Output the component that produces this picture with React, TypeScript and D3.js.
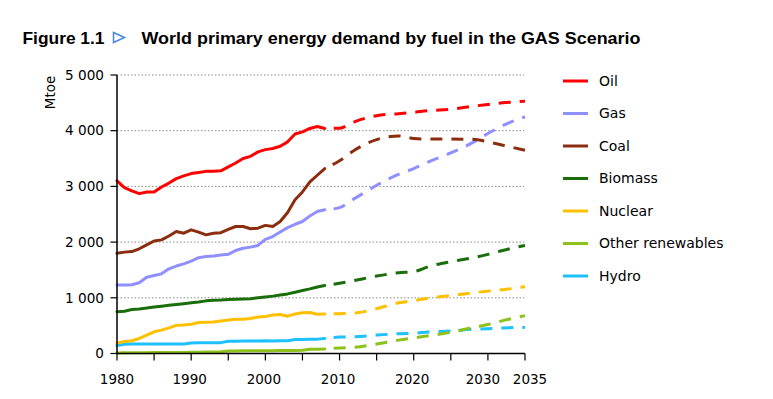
import React from "react";
import * as d3 from "d3";

const histYears = [1980,1981,1982,1983,1984,1985,1986,1987,1988,1989,1990,1991,1992,1993,1994,1995,1996,1997,1998,1999,2000,2001,2002,2003,2004,2005,2006,2007,2008];
const projYears = [2008,2010,2012,2015,2018,2020,2022,2025,2028,2030,2032,2035];

const oilHist = [3100,2980,2920,2870,2900,2900,2990,3060,3140,3190,3230,3250,3270,3270,3280,3350,3420,3500,3540,3620,3660,3680,3720,3800,3940,3980,4040,4075,4040];
const oilProj = [4040,4045,4160,4270,4305,4330,4360,4385,4440,4470,4500,4530];

const gasHist = [1230,1230,1235,1270,1370,1400,1430,1520,1570,1610,1660,1720,1740,1750,1770,1780,1850,1890,1910,1940,2050,2100,2180,2260,2320,2370,2470,2550,2580];
const gasProj = [2580,2620,2780,3020,3220,3320,3440,3600,3790,3950,4090,4250];

const coalHist = [1800,1820,1830,1880,1950,2020,2040,2110,2190,2160,2220,2180,2130,2160,2170,2230,2280,2280,2240,2250,2300,2280,2370,2530,2760,2900,3080,3200,3320];
const coalProj = [3320,3460,3650,3840,3905,3860,3850,3850,3845,3800,3740,3650];

const biomassHist = [750,760,790,800,815,835,850,865,880,895,910,925,945,955,960,970,975,980,985,1000,1015,1030,1050,1070,1100,1130,1160,1195,1220];
const biomassProj = [1220,1260,1310,1390,1450,1470,1560,1650,1720,1780,1850,1940];

const nuclearHist = [190,215,230,270,330,390,420,460,505,510,525,555,560,565,585,600,615,615,630,655,665,690,700,670,710,730,735,705,710];
const nuclearProj = [710,715,725,805,910,950,995,1040,1090,1120,1145,1200];

const otherHist = [10,12,13,14,15,16,17,18,19,20,22,24,26,28,32,45,47,48,48,49,50,51,52,53,54,58,75,78,80];
const otherProj = [80,100,112,170,240,280,320,380,470,520,590,680];

const hydroHist = [145,165,170,170,170,170,170,170,172,172,190,192,192,195,195,220,222,225,225,225,228,226,228,230,250,252,255,258,270];
const hydroProj = [270,295,300,330,355,365,385,405,435,445,458,470];

const seriesNames = ["Oil","Gas","Coal","Biomass","Nuclear","Other renewables","Hydro"];
const seriesColors = ["#ff0000","#8f8fff","#8b2d0e","#1a6e0a","#ffc000","#8dc21a","#1ec0ff"];
const histData = [oilHist,gasHist,coalHist,biomassHist,nuclearHist,otherHist,hydroHist];
const projData = [oilProj,gasProj,coalProj,biomassProj,nuclearProj,otherProj,hydroProj];

const yTicks = [0,1000,2000,3000,4000,5000];
const yTickLabels = ["0","1 000","2 000","3 000","4 000","5 000"];
const xMinorTicks = [1980,1985,1990,1995,2000,2005,2010,2015,2020,2025,2030,2035];
const xLabels = [1980,1990,2000,2010,2020,2030,2035];
const xLabelNudge = [0,-1.5,-1.5,-1.5,-1.5,-5,5];

const axisFont = "'DejaVu Sans', Verdana, sans-serif";

export default function App() {
  const x = d3.scaleLinear().domain([1980, 2035]).range([117, 525]);
  const y = d3.scaleLinear().domain([0, 5000]).range([353.5, 75]);
  const histLine = d3.line<[number, number]>().x(d => x(d[0])).y(d => y(d[1]));
  const projLine = d3.line<[number, number]>().x(d => x(d[0])).y(d => y(d[1])).curve(d3.curveMonotoneX);

  const order = [6,5,4,3,1,2,0];

  return (
    <svg width={773} height={399} style={{ position: "absolute", left: 0, top: 0, background: "#fff" }}>
      {/* Title */}
      <text x={22.5} y={44} fontFamily="'Liberation Sans', Arial, sans-serif" fontWeight="bold" fontSize={17} textLength={82} lengthAdjust="spacingAndGlyphs">Figure 1.1</text>
      <polygon points="113.5,32.5 124.5,37.5 113.5,42.5" fill="#fff" stroke="#4a86e8" strokeWidth={1.5} />
      <text x={141.5} y={44} fontFamily="'Liberation Sans', Arial, sans-serif" fontWeight="bold" fontSize={17} textLength={499} lengthAdjust="spacingAndGlyphs">World primary energy demand by fuel in the GAS Scenario</text>

      {/* Gridlines */}
      {yTicks.filter(t => t > 0).map(t => (
        <line key={"g" + t} x1={x(1980)} x2={524} y1={y(t)} y2={y(t)} stroke="#8a8a8a" strokeWidth={1} strokeDasharray="1.5,2" />
      ))}

      {/* Series */}
      {order.map(i => {
        const h = histYears.map((yr, k) => [yr, histData[i][k]] as [number, number]);
        const p = projYears.map((yr, k) => [yr, projData[i][k]] as [number, number]);
        return (
          <g key={seriesNames[i]}>
            <path d={histLine(h) || ""} fill="none" stroke={seriesColors[i]} strokeWidth={3} strokeLinejoin="round" strokeLinecap="round" />
            <path d={projLine(p) || ""} fill="none" stroke={seriesColors[i]} strokeWidth={3} strokeDasharray="12,9" strokeDashoffset={-9} />
          </g>
        );
      })}

      {/* Y axis */}
      <line x1={x(1980)} x2={x(1980)} y1={y(5000)} y2={y(0)} stroke="#000" strokeWidth={1.5} />
      {yTicks.map((t, k) => (
        <g key={"y" + t}>
          <line x1={x(1980) - 6.5} x2={x(1980)} y1={y(t)} y2={y(t)} stroke="#000" strokeWidth={1.2} />
          <text x={104} y={y(t)} dy="0.35em" textAnchor="end" fontFamily={axisFont} fontSize={13.6} fill="#000">{yTickLabels[k]}</text>
        </g>
      ))}
      <text transform={`translate(50,92.5) rotate(-90)`} textAnchor="middle" dy="0.35em" fontFamily={axisFont} fontSize={13.5}>Mtoe</text>

      {/* X axis */}
      <line x1={x(1980)} x2={x(2035)} y1={y(0)} y2={y(0)} stroke="#000" strokeWidth={1.5} />
      {xMinorTicks.map(t => (
        <line key={"xt" + t} x1={x(t)} x2={x(t)} y1={y(0)} y2={y(0) + 7} stroke="#000" strokeWidth={1.2} />
      ))}
      {xLabels.map((t, k) => (
        <text key={"xl" + t} x={x(t) + xLabelNudge[k]} y={379} dy="0.35em" textAnchor="middle" fontFamily={axisFont} fontSize={13.5}>{t}</text>
      ))}

      {/* Legend */}
      {seriesNames.map((n, i) => (
        <g key={"lg" + n} transform={`translate(0,${81 + i * 32.5})`}>
          <line x1={563} x2={588} y1={0} y2={0} stroke={seriesColors[i]} strokeWidth={3} />
          <text x={599} y={0} dy="0.35em" fontFamily={axisFont} fontSize={14}>{n}</text>
        </g>
      ))}
    </svg>
  );
}
